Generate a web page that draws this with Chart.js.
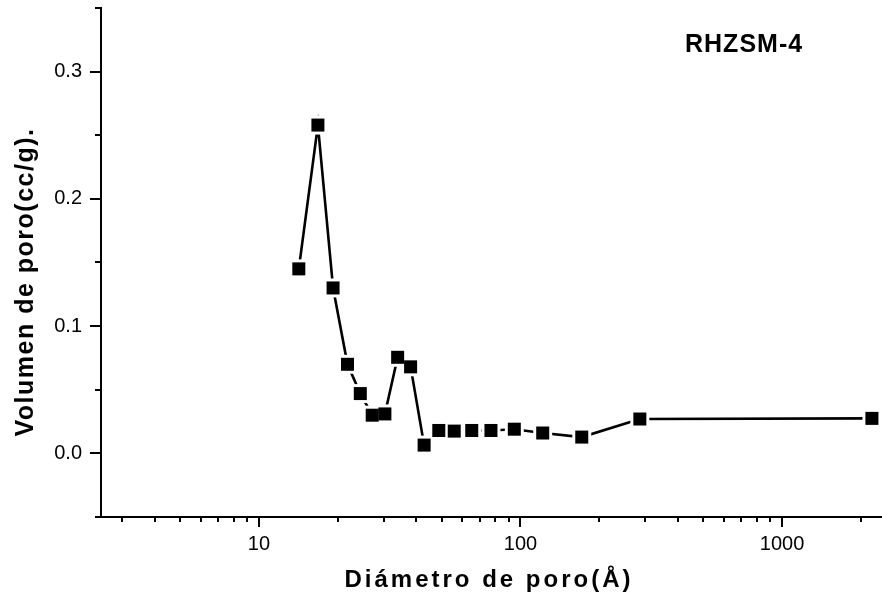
<!DOCTYPE html>
<html>
<head>
<meta charset="utf-8">
<title>RHZSM-4</title>
<script src="https://cdn.jsdelivr.net/npm/chart.js@4.4.1/dist/chart.umd.min.js"></script>
<style>
  body { margin: 0; background: #fff; overflow: hidden; }
  #wrap { position: relative; width: 882px; height: 603px; }
</style>
</head>
<body>
<div id="wrap"><canvas id="myChart"></canvas></div>
<script>
// pore diameter (A) and pore volume (cc/g)
var diameters = [14.2, 16.8, 19.2, 21.8, 24.4, 27.1, 30.3, 33.9, 38.0, 42.8, 48.7, 55.8, 65.1, 77.1, 94.7, 121.6, 171.5, 286, 2207]
var volumes = [0.145, 0.258, 0.130, 0.070, 0.047, 0.030, 0.031, 0.0755, 0.068, 0.0065, 0.018, 0.0175, 0.018, 0.018, 0.019, 0.016, 0.0128, 0.027, 0.0275]

var xMajorTicks = [10, 100, 1000]
var xMinorTicks = [3, 4, 5, 6, 7, 8, 9, 20, 30, 40, 50, 60, 70, 80, 90, 200, 300, 400, 500, 600, 700, 800, 900, 2000]
var yMajorTicks = [0, 0.1, 0.2, 0.3]
var yMinorTicks = [-0.05, 0.05, 0.15, 0.25, 0.35]

var sampleName = "RHZSM-4"
var xTitle = "Diámetro de poro(Å)"
var yTitle = "Volumen de poro(cc/g)."

var points = []
for (let i = 0; i < diameters.length; i++) {
    points.push({ x: diameters[i], y: volumes[i] })
}

var fontFamily = "'Liberation Sans', Arial, sans-serif"

// ticks (outside, Origin style) and the texts
var decorPlugin = {
    id: "decor",
    afterDraw: function (chart) {
        var ctx = chart.ctx
        var area = chart.chartArea
        var xs = chart.scales.x
        var ys = chart.scales.y
        ctx.save()
        ctx.strokeStyle = "#000"
        ctx.lineWidth = 2
        ctx.beginPath()
        xMajorTicks.forEach(function (v) {
            var px = Math.round(xs.getPixelForValue(v))
            ctx.moveTo(px, area.bottom); ctx.lineTo(px, area.bottom + 10)
        })
        xMinorTicks.forEach(function (v) {
            var px = Math.round(xs.getPixelForValue(v))
            ctx.moveTo(px, area.bottom); ctx.lineTo(px, area.bottom + 5)
        })
        yMajorTicks.forEach(function (v) {
            var py = Math.round(ys.getPixelForValue(v))
            ctx.moveTo(area.left, py); ctx.lineTo(area.left - 11, py)
        })
        yMinorTicks.forEach(function (v) {
            var py = Math.round(ys.getPixelForValue(v))
            ctx.moveTo(area.left, py); ctx.lineTo(area.left - 6, py)
        })
        ctx.stroke()

        ctx.fillStyle = "#000"
        ctx.textBaseline = "alphabetic"

        // sample name
        ctx.font = "bold 25px " + fontFamily
        ctx.letterSpacing = "1px"
        ctx.textAlign = "left"
        ctx.fillText(sampleName, 685, 52)

        // x title
        ctx.font = "bold 24px " + fontFamily
        ctx.letterSpacing = "3px"
        ctx.textAlign = "center"
        ctx.fillText(xTitle, 489, 587)

        // y title
        ctx.font = "bold 25px " + fontFamily
        ctx.letterSpacing = "1.5px"
        ctx.translate(33, 282)
        ctx.rotate(-Math.PI / 2)
        ctx.fillText(yTitle, 0, 0)
        ctx.restore()
    }
}

function noPadding(scale) {
    scale.paddingTop = 0
    scale.paddingBottom = 0
    scale.paddingLeft = 0
    scale.paddingRight = 0
}

new Chart("myChart", {
    type: "line",
    data: {
        datasets: [
            {
                // black squares on top
                data: points,
                showLine: false,
                pointStyle: "rect",
                pointRadius: 9.2,
                pointBorderWidth: 0,
                pointBackgroundColor: "#000",
                order: 0
            },
            {
                // connecting line, white squares make the gap round each point
                data: points,
                borderColor: "#000",
                borderWidth: 2.6,
                pointStyle: "rect",
                pointRadius: 13.4,
                pointBorderWidth: 0,
                pointBackgroundColor: "#fff",
                order: 1
            }
        ]
    },
    plugins: [decorPlugin],
    options: {
        responsive: true,
        maintainAspectRatio: false,
        animation: false,
        events: [],
        layout: { autoPadding: false, padding: { top: 8, right: 0, bottom: 0, left: 0 } },
        plugins: {
            legend: { display: false },
            tooltip: { enabled: false }
        },
        scales: {
            x: {
                type: "logarithmic",
                min: 2.488,
                max: 2412,
                grid: { display: false, drawTicks: true, tickLength: 10 },
                border: { display: true, color: "#000", width: 2 },
                ticks: {
                    color: "#000",
                    padding: 5,
                    maxRotation: 0,
                    font: { family: fontFamily, size: 20 },
                    callback: function (v) { return String(v) }
                },
                afterBuildTicks: function (scale) {
                    scale.ticks = xMajorTicks.map(function (v) { return { value: v } })
                },
                afterFit: function (scale) {
                    scale.height = 86
                    noPadding(scale)
                }
            },
            y: {
                min: -0.05,
                max: 0.35,
                grid: { display: false, drawTicks: true, tickLength: 10 },
                border: { display: true, color: "#000", width: 2 },
                ticks: {
                    color: "#000",
                    padding: 9,
                    font: { family: fontFamily, size: 20 },
                    callback: function (v) { return Number(v).toFixed(1) }
                },
                afterBuildTicks: function (scale) {
                    scale.ticks = yMajorTicks.map(function (v) { return { value: v } })
                },
                afterFit: function (scale) {
                    scale.width = 101
                    noPadding(scale)
                }
            }
        }
    }
})
</script>
</body>
</html>
